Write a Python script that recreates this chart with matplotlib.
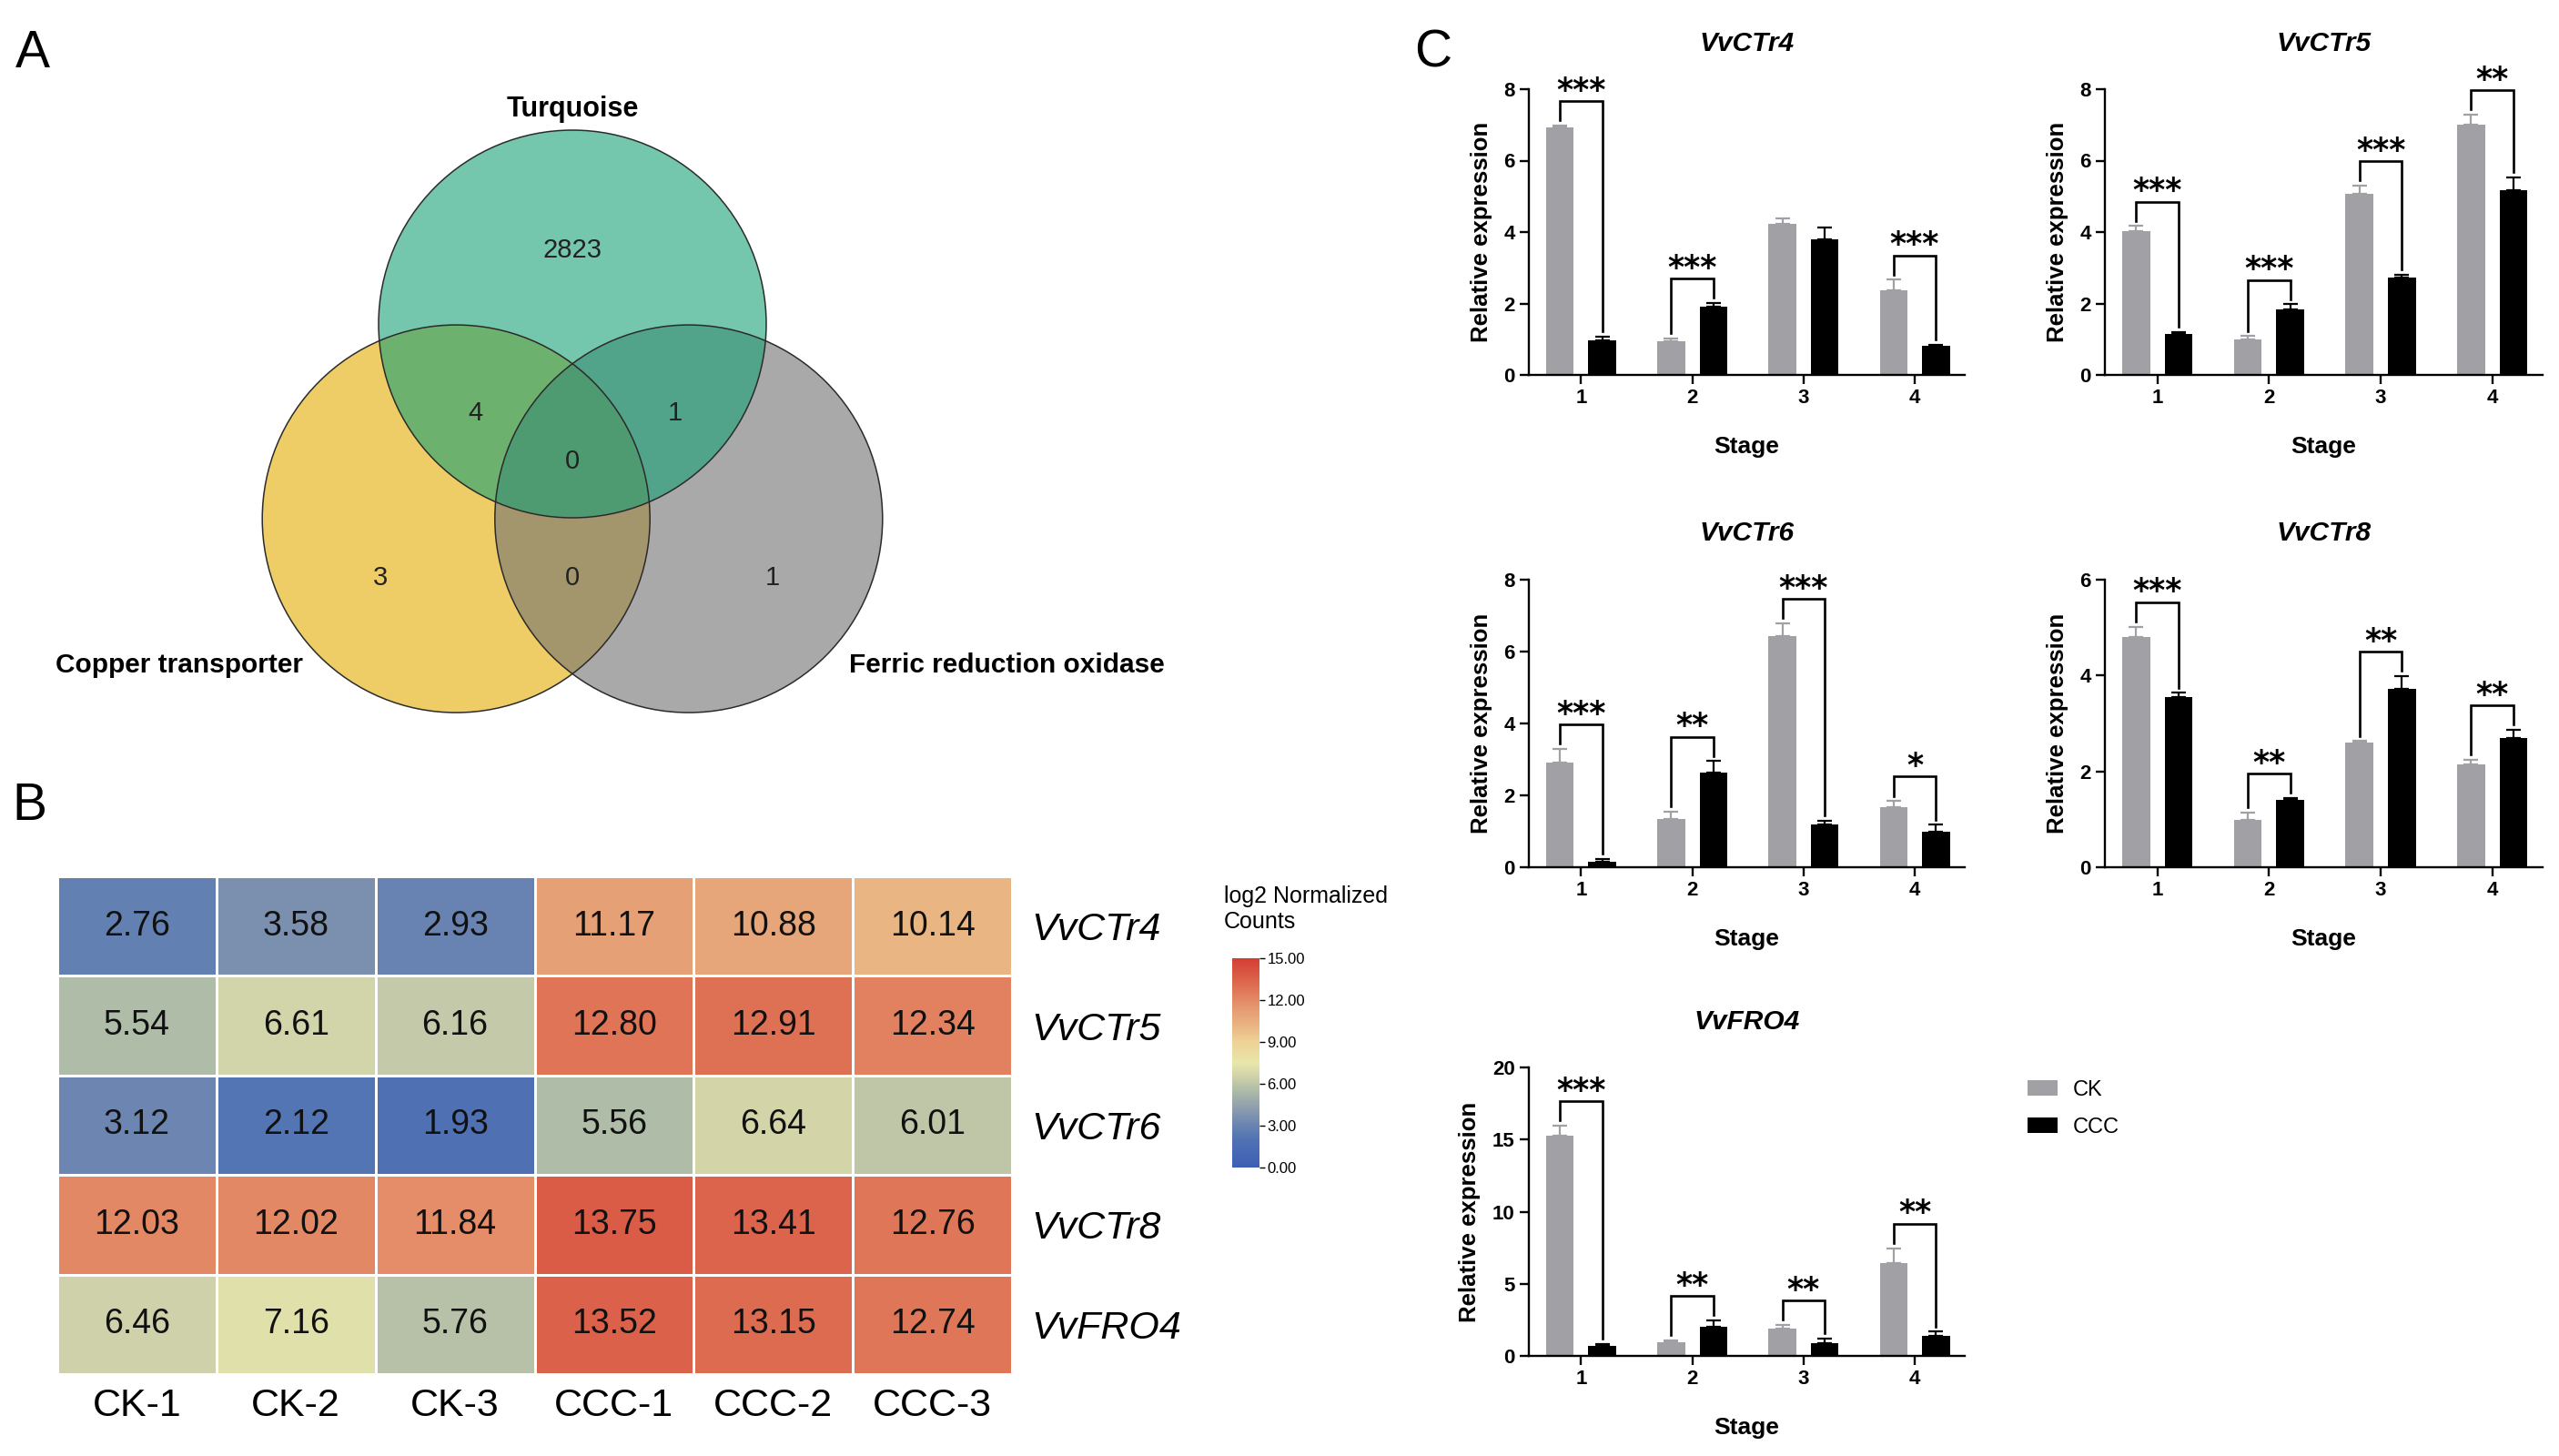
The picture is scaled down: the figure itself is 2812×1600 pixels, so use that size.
import numpy as np
import matplotlib
matplotlib.use("Agg")
import matplotlib.pyplot as plt
from matplotlib.patches import Circle, Patch
from matplotlib.colors import LinearSegmentedColormap

plt.rcParams['font.family'] = ['Liberation Sans', 'DejaVu Sans']

W, H = 2812, 1600

# ---------------- data ----------------
# Panel A: Venn
venn_set_names = ["Turquoise", "Copper transporter", "Ferric reduction oxidase"]
venn_only_turquoise = 2823
venn_turq_copper = 4
venn_turq_ferric = 1
venn_all_three = 0
venn_only_copper = 3
venn_copper_ferric = 0
venn_only_ferric = 1

# Panel B: heatmap
samples = ["CK-1", "CK-2", "CK-3", "CCC-1", "CCC-2", "CCC-3"]
genes = ["VvCTr4", "VvCTr5", "VvCTr6", "VvCTr8", "VvFRO4"]
heat_CTr4 = [2.76, 3.58, 2.93, 11.17, 10.88, 10.14]
heat_CTr5 = [5.54, 6.61, 6.16, 12.80, 12.91, 12.34]
heat_CTr6 = [3.12, 2.12, 1.93, 5.56, 6.64, 6.01]
heat_CTr8 = [12.03, 12.02, 11.84, 13.75, 13.41, 12.76]
heat_FRO4 = [6.46, 7.16, 5.76, 13.52, 13.15, 12.74]
cbar_ticks = [0, 3, 6, 9, 12, 15]

# Panel C: qPCR bars
stages = [1, 2, 3, 4]
groups = ["CK", "CCC"]

CTr4_ck = [6.93, 0.94, 4.23, 2.37]
CTr4_ck_err = [0.05, 0.08, 0.15, 0.30]
CTr4_ccc = [0.98, 1.91, 3.79, 0.81]
CTr4_ccc_err = [0.10, 0.10, 0.34, 0.04]
CTr4_sig = ["***", "***", "", "***"]

CTr5_ck = [4.02, 0.99, 5.08, 7.01]
CTr5_ck_err = [0.15, 0.10, 0.23, 0.28]
CTr5_ccc = [1.15, 1.83, 2.72, 5.16]
CTr5_ccc_err = [0.05, 0.15, 0.08, 0.37]
CTr5_sig = ["***", "***", "***", "**"]

CTr6_ck = [2.91, 1.35, 6.44, 1.66]
CTr6_ck_err = [0.38, 0.19, 0.35, 0.18]
CTr6_ccc = [0.15, 2.64, 1.20, 0.99]
CTr6_ccc_err = [0.08, 0.31, 0.10, 0.19]
CTr6_sig = ["***", "**", "***", "*"]

CTr8_ck = [4.80, 0.99, 2.60, 2.14]
CTr8_ck_err = [0.22, 0.15, 0.03, 0.10]
CTr8_ccc = [3.55, 1.41, 3.73, 2.69]
CTr8_ccc_err = [0.09, 0.03, 0.26, 0.18]
CTr8_sig = ["***", "**", "**", "**"]

FRO4_ck = [15.26, 0.95, 1.89, 6.42]
FRO4_ck_err = [0.69, 0.15, 0.27, 1.05]
FRO4_ccc = [0.69, 2.04, 0.91, 1.41]
FRO4_ccc_err = [0.15, 0.42, 0.29, 0.27]
FRO4_sig = ["***", "**", "**", "**"]

# ---------------- figure ----------------
fig = plt.figure(figsize=(W / 100, H / 100), dpi=100)


def fax(x0, y0, x1, y1):
    """axes rect from pixel box (top-left origin)"""
    return fig.add_axes([x0 / W, 1 - y1 / H, (x1 - x0) / W, (y1 - y0) / H])


# panel letters
fig.text(36 / W, 1 - 59 / H, "A", fontsize=41, ha="center", va="center")
fig.text(32 / W, 1 - 886 / H, "B", fontsize=41, ha="center", va="center")
fig.text(1575 / W, 1 - 59 / H, "C", fontsize=41, ha="center", va="center")

# ---------------- Panel A: Venn ----------------
axv = fax(100, 80, 1300, 820)
r_px = 213.0
axv.set_xlim((100 - 629) / r_px, (1300 - 629) / r_px)
axv.set_ylim(0.5 + (356 - 820) / r_px, 0.5 + (356 - 80) / r_px)
axv.axis("off")

c_top, c_left, c_right = (0.0, 0.5), (-0.6, -0.505), (0.6, -0.505)
alpha = 0.6
for c, col in [(c_left, "#E3AA00"), (c_right, "#717171"), (c_top, "#17A075")]:
    axv.add_patch(Circle(c, 1.0, facecolor=col, edgecolor="none", alpha=alpha))
for c in [c_left, c_right, c_top]:
    axv.add_patch(Circle(c, 1.0, facecolor="none", edgecolor="#2b2b2b", lw=1.1))

num_fs = 21
for (u, v), val in [((0.0, 0.88), venn_only_turquoise), ((-0.50, 0.04), venn_turq_copper),
                    ((0.53, 0.04), venn_turq_ferric), ((0.0, -0.21), venn_all_three),
                    ((-0.99, -0.81), venn_only_copper), ((0.0, -0.81), venn_copper_ferric),
                    ((1.03, -0.81), venn_only_ferric)]:
    axv.text(u, v, str(val), ha="center", va="center", fontsize=num_fs, color="#222222")

axv.text(0.0, 1.61, venn_set_names[0], ha="center", va="center", fontsize=22, fontweight="bold")
axv.text(-2.03, -1.26, venn_set_names[1], ha="center", va="center", fontsize=21.5, fontweight="bold")
axv.text(2.24, -1.26, venn_set_names[2], ha="center", va="center", fontsize=21.5, fontweight="bold")

# ---------------- Panel B: heatmap ----------------
cmap = LinearSegmentedColormap.from_list("hm", [
    (0.0, (60 / 255, 95 / 255, 180 / 255)),
    (0.13, (80 / 255, 114 / 255, 180 / 255)),
    (0.2, (105 / 255, 132 / 255, 177 / 255)),
    (0.25, (128 / 255, 147 / 255, 175 / 255)),
    (0.37, (176 / 255, 188 / 255, 168 / 255)),
    (0.44, (210 / 255, 212 / 255, 169 / 255)),
    (0.5, (232 / 255, 230 / 255, 170 / 255)),
    (0.6, (238 / 255, 210 / 255, 150 / 255)),
    (0.68, (233 / 255, 180 / 255, 130 / 255)),
    (0.75, (230 / 255, 158 / 255, 116 / 255)),
    (0.82, (226 / 255, 130 / 255, 96 / 255)),
    (0.9, (219 / 255, 98 / 255, 74 / 255)),
    (1.0, (212 / 255, 62 / 255, 52 / 255)),
])

heat = np.array([heat_CTr4, heat_CTr5, heat_CTr6, heat_CTr8, heat_FRO4])
axh = fax(63, 963, 1112, 1510)
mesh = axh.pcolormesh(heat, cmap=cmap, vmin=0, vmax=15, edgecolors="white", linewidth=2.0)
axh.set_xlim(0, heat.shape[1])
axh.set_ylim(heat.shape[0], 0)
for s in axh.spines.values():
    s.set_visible(False)
for i in range(heat.shape[0]):
    for j in range(heat.shape[1]):
        axh.text(j + 0.5, i + 0.5, f"{heat[i, j]:.2f}", ha="center", va="center",
                 fontsize=27, color="#111111")
axh.set_xticks(np.arange(len(samples)) + 0.5)
axh.set_xticklabels(samples, fontsize=31)
axh.set_yticks(np.arange(len(genes)) + 0.5)
axh.set_yticklabels(genes, fontsize=31, fontstyle="italic")
axh.yaxis.tick_right()
axh.tick_params(axis="both", length=0)
axh.tick_params(axis="x", pad=11)
axh.tick_params(axis="y", pad=15)
for lab in axh.get_yticklabels():
    lab.set_y(lab.get_position()[1])

cax = fax(1354, 1053, 1384, 1283)
cb = fig.colorbar(mesh, cax=cax, ticks=cbar_ticks, format="%.2f")
cb.outline.set_visible(False)
cax.tick_params(labelsize=12, length=4, width=1, pad=2)
fig.text(1345 / W, 1 - 973 / H, "log2 Normalized\nCounts", fontsize=18, ha="left", va="top",
         linespacing=1.2)

# ---------------- Panel C: bars ----------------
GRAY = "#A0A0A5"
bw = 0.25
off = 0.19


def bar_panel(ax, title, ck, ck_err, ccc, ccc_err, sig, ymax, ystep, title_pad):
    x = np.array(stages, dtype=float)
    ck = np.array(ck); ccc = np.array(ccc)
    ck_err = np.array(ck_err); ccc_err = np.array(ccc_err)
    ax.bar(x - off, ck, width=bw, color=GRAY, zorder=2, label=groups[0])
    ax.bar(x + off, ccc, width=bw, color="black", zorder=2, label=groups[1])
    ax.errorbar(x - off, ck, yerr=[np.zeros(4), ck_err], fmt="none", ecolor=GRAY,
                elinewidth=1.6, capsize=5.5, capthick=1.6, zorder=1)
    ax.errorbar(x + off, ccc, yerr=[np.zeros(4), ccc_err], fmt="none", ecolor="black",
                elinewidth=1.6, capsize=5.5, capthick=1.6, zorder=1)
    for i, s in enumerate(sig):
        if not s:
            continue
        t1 = ck[i] + ck_err[i]
        t2 = ccc[i] + ccc_err[i]
        yb = max(t1, t2) + 0.085 * ymax
        gap = 0.018 * ymax
        ax.plot([x[i] - off, x[i] - off, x[i] + off, x[i] + off],
                [t1 + gap, yb, yb, t2 + gap], color="black", lw=1.9, clip_on=False,
                solid_joinstyle="miter")
        ax.text(x[i], yb + 0.004 * ymax, s, ha="center", va="baseline", fontsize=25,
                fontweight="bold", family="DejaVu Sans", clip_on=False)
    ax.set_xlim(0.53, 4.45)
    ax.set_ylim(0, ymax)
    ax.set_xticks(stages)
    ax.set_yticks(np.arange(0, ymax + 0.1, ystep))
    for sp in ["top", "right"]:
        ax.spines[sp].set_visible(False)
    for sp in ["left", "bottom"]:
        ax.spines[sp].set_linewidth(1.7)
    ax.tick_params(axis="both", direction="out", length=7, width=1.7, labelsize=16, pad=4)
    for lab in ax.get_xticklabels() + ax.get_yticklabels():
        lab.set_fontweight("bold")
    ax.set_xlabel("Stage", fontsize=19, fontweight="bold", labelpad=22)
    ax.set_ylabel("Relative expression", fontsize=18.5, fontweight="bold", labelpad=9)
    ax.set_title(title, fontsize=21.5, fontweight="bold", fontstyle="italic", pad=title_pad)


ax1 = fax(1680, 98, 2159, 412)
bar_panel(ax1, "VvCTr4", CTr4_ck, CTr4_ck_err, CTr4_ccc, CTr4_ccc_err, CTr4_sig, 8, 2, 30)
ax2 = fax(2313, 98, 2794, 412)
bar_panel(ax2, "VvCTr5", CTr5_ck, CTr5_ck_err, CTr5_ccc, CTr5_ccc_err, CTr5_sig, 8, 2, 30)
ax3 = fax(1680, 637, 2159, 953)
bar_panel(ax3, "VvCTr6", CTr6_ck, CTr6_ck_err, CTr6_ccc, CTr6_ccc_err, CTr6_sig, 8, 2, 31)
ax4 = fax(2313, 637, 2794, 953)
bar_panel(ax4, "VvCTr8", CTr8_ck, CTr8_ck_err, CTr8_ccc, CTr8_ccc_err, CTr8_sig, 6, 2, 31)
ax5 = fax(1680, 1173, 2159, 1490)
bar_panel(ax5, "VvFRO4", FRO4_ck, FRO4_ck_err, FRO4_ccc, FRO4_ccc_err, FRO4_sig, 20, 5, 30)

handles = [Patch(facecolor=GRAY, edgecolor="none"), Patch(facecolor="black", edgecolor="none")]
fig.legend(handles, groups, loc="upper left", bbox_to_anchor=(2228 / W, 1 - 1187 / H),
           frameon=False, fontsize=17, handlelength=1.4, handleheight=0.72,
           labelspacing=0.8, handletextpad=0.7, borderpad=0, borderaxespad=0)

fig.savefig("out.png", dpi=100)
